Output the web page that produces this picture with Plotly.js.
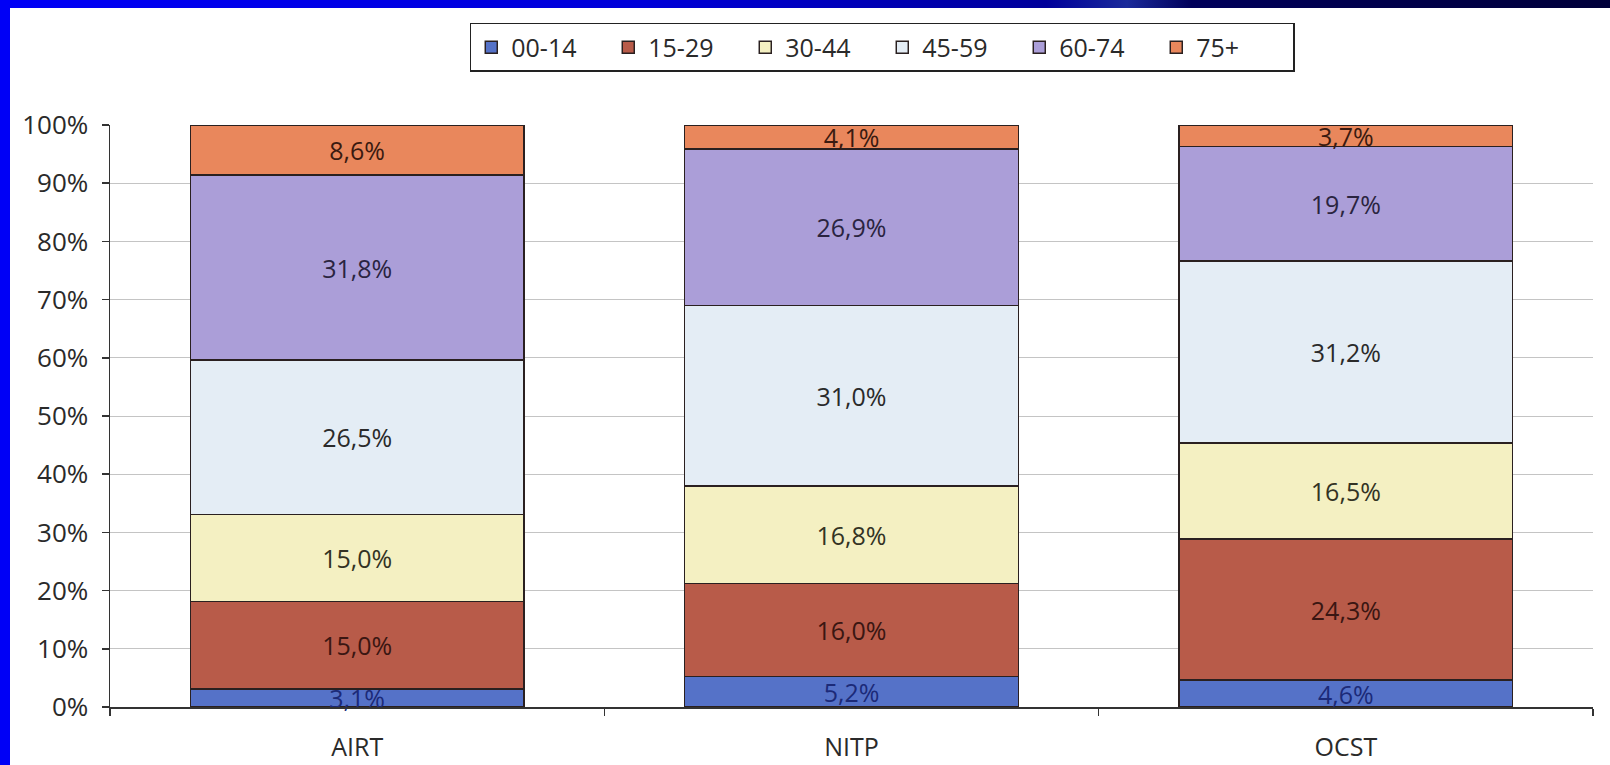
<!DOCTYPE html>
<html>
<head>
<meta charset="utf-8">
<script src="https://cdn.plot.ly/plotly-3.0.1.min.js"></script>
<style>
  html, body { margin: 0; padding: 0; background: #ffffff; }
  #wrap { position: relative; width: 1610px; height: 765px; overflow: hidden; }
  #chart { position: absolute; left: 0; top: 0; width: 1610px; height: 765px; }
  #topbar { position: absolute; left: 0; top: 0; width: 1610px; height: 8px; z-index: 5;
    background: linear-gradient(to right, #0000f6 0%, #0000d8 40%, #00009a 65%, #1a2a9a 70%, #00005a 74%, #00003a 100%); }
  #leftbar { position: absolute; left: 0; top: 0; width: 10px; height: 765px; z-index: 5; background: #0000f6; }
</style>
</head>
<body>
<div id="wrap">
  <div id="chart"></div>
  <div id="topbar"></div>
  <div id="leftbar"></div>
</div>
<script>
// Age-group shares per region (%)
const regions = ['AIRT', 'NITP', 'OCST'];
const ageGroups = ['00-14', '15-29', '30-44', '45-59', '60-74', '75+'];

const age00_14 = [3.1, 5.2, 4.6];
const age15_29 = [15.0, 16.0, 24.3];
const age30_44 = [15.0, 16.8, 16.5];
const age45_59 = [26.5, 31.0, 31.2];
const age60_74 = [31.8, 26.9, 19.7];
const age75p   = [8.6, 4.1, 3.7];

const seriesValues = [age00_14, age15_29, age30_44, age45_59, age60_74, age75p];
const fillColors = ['#5572c8', '#b85b49', '#f4f0c2', '#e4edf5', '#ab9ed8', '#e9875c'];
const labelColors = ['#1c2a78', '#3a1612', '#333324', '#2a2a2a', '#2a2440', '#3a1a10'];

const FONT = 'Open Sans, sans-serif';

const traces = ageGroups.map((name, i) => ({
  type: 'bar',
  name: name,
  x: regions,
  y: seriesValues[i],
  marker: { color: fillColors[i], line: { color: '#2a2020', width: 1.5 } },
  texttemplate: '%{y:.1f}%',
  textposition: 'inside',
  insidetextanchor: 'middle',
  textangle: 0,
  constraintext: 'none',
  cliponaxis: false,
  textfont: { family: FONT, size: 25, color: labelColors[i] },
  hoverinfo: 'skip'
}));

const layout = {
  width: 1610,
  height: 765,
  barmode: 'stack',
  bargap: 0.325,
  separators: ', ',
  paper_bgcolor: '#ffffff',
  plot_bgcolor: '#ffffff',
  margin: { l: 110, r: 17, t: 125, b: 58 },
  font: { family: FONT, size: 24, color: '#2a2a2a' },
  uniformtext: { mode: 'show', minsize: 25 },
  showlegend: true,
  legend: {
    orientation: 'h',
    x: 0.548, xanchor: 'center',
    y: 0.970, yanchor: 'top',
    yref: 'container',
    xref: 'container',
    traceorder: 'normal',
    bordercolor: '#222222',
    borderwidth: 1.5,
    bgcolor: '#ffffff',
    font: { family: FONT, size: 25, color: '#2a2a2a' },
    itemwidth: 30,
    entrywidth: 92,
    entrywidthmode: 'pixels'
  },
  xaxis: {
    showline: true,
    linecolor: '#333333',
    linewidth: 1.5,
    ticks: 'outside',
    tickson: 'boundaries',
    ticklen: 7,
    tickcolor: '#333333',
    tickwidth: 1.5,
    showgrid: false,
    tickfont: { family: FONT, size: 25, color: '#2a2a2a' },
    ticklabelstandoff: 17
  },
  yaxis: {
    range: [0, 100],
    dtick: 10,
    ticksuffix: '%',
    showline: true,
    linecolor: '#333333',
    linewidth: 1.5,
    ticks: 'outside',
    ticklen: 7,
    tickcolor: '#333333',
    tickwidth: 1.5,
    showgrid: true,
    gridcolor: '#c4c4c4',
    gridwidth: 1,
    zeroline: false,
    ticklabelstandoff: 8,
    tickfont: { family: FONT, size: 26, color: '#2a2a2a' }
  }
};

Plotly.newPlot('chart', traces, layout, { displayModeBar: false, staticPlot: true });
</script>
</body>
</html>
